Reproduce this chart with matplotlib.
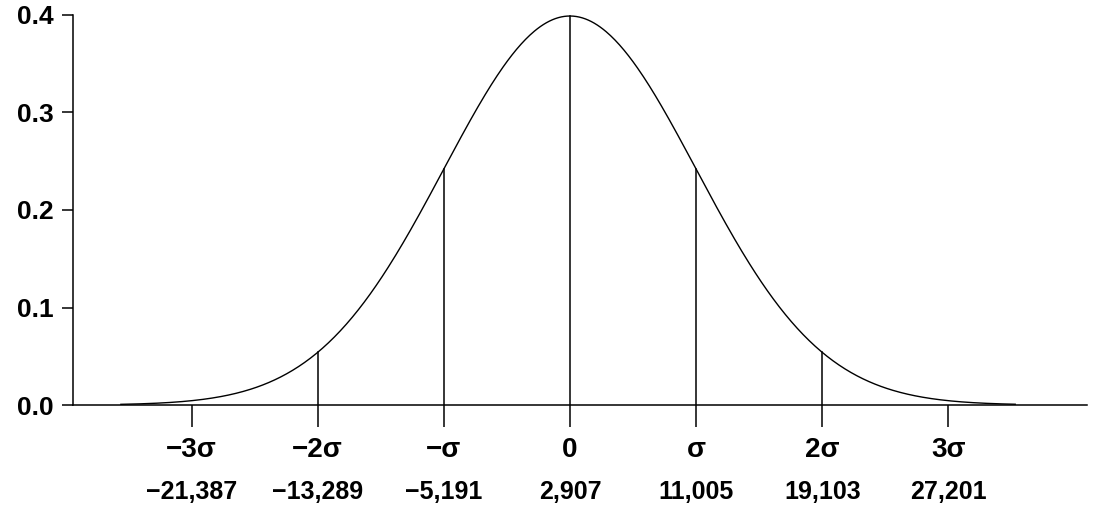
import numpy as np
import matplotlib.pyplot as plt
from matplotlib.transforms import blended_transform_factory

# sigma positions and their dollar values
sigma_pos = [-3, -2, -1, 0, 1, 2, 3]
sigma_labels = ["−3σ", "−2σ", "−σ", "0", "σ", "2σ", "3σ"]
value_labels = ["−21,387", "−13,289", "−5,191", "2,907", "11,005", "19,103", "27,201"]
line_pos = [-2, -1, 0, 1, 2]
y_ticks = [0.0, 0.1, 0.2, 0.3, 0.4]

plt.rcParams['font.family'] = ['Liberation Sans', 'DejaVu Sans']

fig = plt.figure(figsize=(10.97, 5.13), dpi=100)
ax = fig.add_axes([0.0665, 0.2105, 0.9245, 0.7603])

x = np.linspace(-3.56, 3.53, 600)
pdf = np.exp(-x**2 / 2) / np.sqrt(2 * np.pi)
ax.plot(x, pdf, color='black', lw=1.0)

for p in line_pos:
    ax.plot([p, p], [0, np.exp(-p**2 / 2) / np.sqrt(2 * np.pi)], color='black', lw=1.1)

ax.set_xlim(-3.94, 4.10)
ax.set_ylim(0, 0.4)
for s in ['top', 'right']:
    ax.spines[s].set_visible(False)
ax.spines['left'].set_linewidth(1.1)
ax.spines['bottom'].set_linewidth(1.1)

ax.set_yticks(y_ticks)
ax.set_yticklabels([f"{v:.1f}" for v in y_ticks], fontsize=19, fontweight='bold')
ax.tick_params(axis='y', length=8, width=1.1, pad=6)
ax.set_xticks(sigma_pos)
ax.set_xticklabels([])
ax.tick_params(axis='x', length=16, width=1.1, direction='out')

tr = blended_transform_factory(ax.transData, fig.transFigure)
for p, s, v in zip(sigma_pos, sigma_labels, value_labels):
    ax.text(p, 1 - 450 / 513, s, transform=tr, ha='center', va='center',
            fontsize=20, fontweight='bold')
    ax.text(p, 1 - 492 / 513, v, transform=tr, ha='center', va='center',
            fontsize=18, fontweight='bold')

fig.savefig("out.png", dpi=100)
